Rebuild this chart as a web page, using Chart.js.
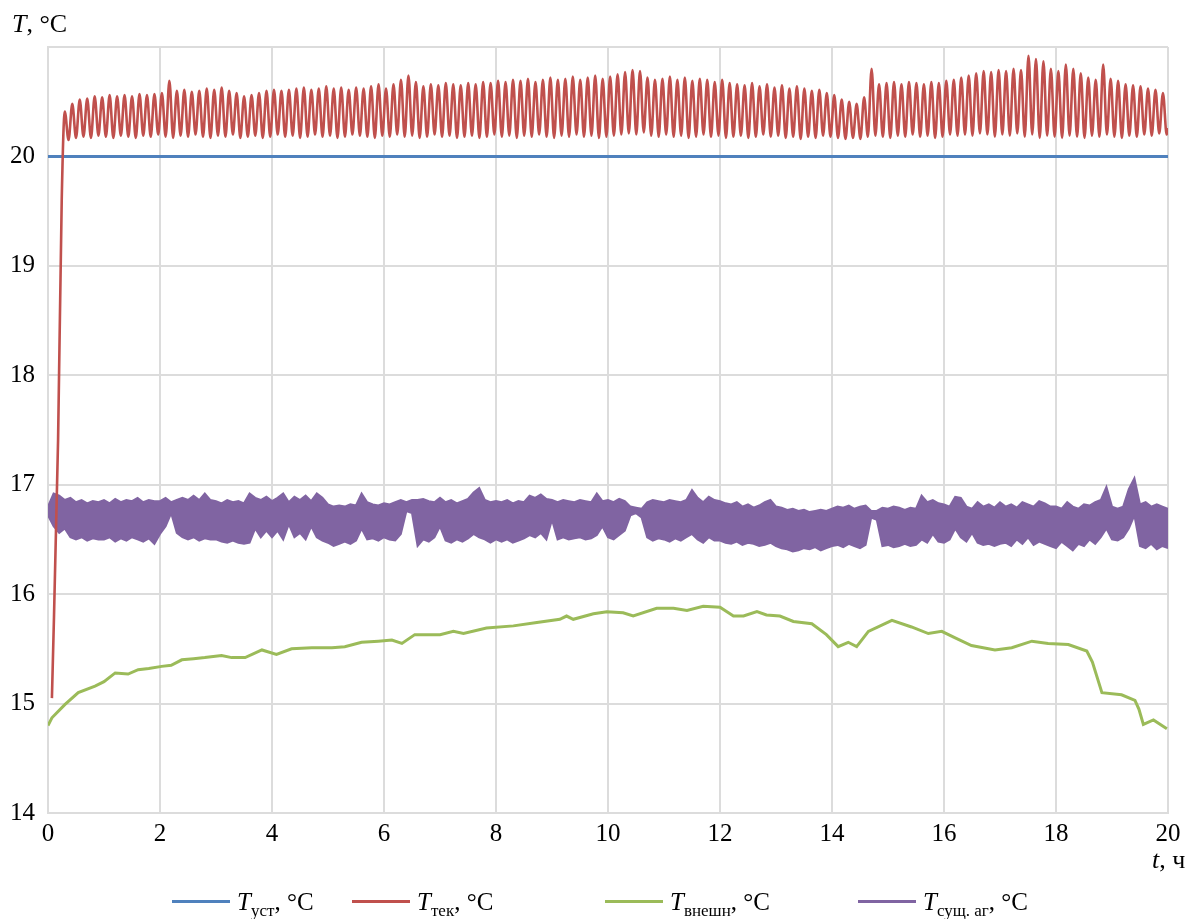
<!DOCTYPE html>
<html>
<head>
<meta charset="utf-8">
<script src="https://cdn.jsdelivr.net/npm/chart.js@4.4.1/dist/chart.umd.min.js"></script>
<style>
  body { margin: 0; background: #fff; font-family: "Liberation Serif", "Times New Roman", serif; color: #000; }
  #wrap { position: relative; width: 1203px; height: 919px; }
  #yTitle { position: absolute; left: 12px; top: 9px; font-size: 26px; }
  #xTitle { position: absolute; left: 1152px; top: 845px; font-size: 26px; }
  .leg { position: absolute; top: 888px; font-size: 25px; white-space: nowrap; }
  .leg .sw { display: inline-block; width: 58px; height: 3px; vertical-align: middle; margin-right: 7px; position: relative; top: -3px; }
  .leg sub { font-size: 17px; }
</style>
</head>
<body>
<div id="wrap">
  <canvas id="chart" width="1203" height="919"></canvas>
  <div id="yTitle"><i>T</i>, °C</div>
  <div id="xTitle"><i>t</i>, ч</div>
  <div id="legend"></div>
</div>
<script>
// x axis: time, h ; y axis: temperature, °C
const xTicks = [0, 2, 4, 6, 8, 10, 12, 14, 16, 18, 20];
const yTicks = [14, 15, 16, 17, 18, 19, 20];
const legendSubs = ['уст', 'тек', 'внешн', 'сущ. аг'];

// T уст (setpoint)
const ustT = [0, 20];
const ustV = [20, 20];

// T тек : warm-up ramp, then peaks / troughs of the oscillation
const tekRampT = [0.07, 0.18, 0.245];
const tekRampV = [15.05, 17.41, 19.6];
const tekStart = 0.30;
const tekHalfStep = 0.0667;
const tekPeaks = [
  20.41, 20.48, 20.52, 20.53, 20.55, 20.54, 20.56, 20.55, 20.56, 20.55, 20.57, 20.56, 20.57, 20.58, 20.69,
  20.60, 20.61, 20.59, 20.60, 20.62, 20.61, 20.63, 20.60, 20.58, 20.55, 20.56, 20.58, 20.60, 20.61, 20.60,
  20.61, 20.62, 20.63, 20.61, 20.62, 20.64, 20.62, 20.63, 20.61, 20.63, 20.62, 20.64, 20.66, 20.62, 20.66,
  20.70, 20.74, 20.68, 20.64, 20.66, 20.65, 20.67, 20.66, 20.65, 20.67, 20.66, 20.68, 20.67, 20.69, 20.68,
  20.70, 20.69, 20.71, 20.68, 20.70, 20.72, 20.70, 20.71, 20.73, 20.70, 20.72, 20.74, 20.71, 20.73, 20.75,
  20.77, 20.79, 20.78, 20.72, 20.70, 20.71, 20.73, 20.70, 20.72, 20.69, 20.71, 20.70, 20.68, 20.70, 20.67,
  20.66, 20.65, 20.67, 20.64, 20.66, 20.63, 20.65, 20.62, 20.64, 20.62, 20.60, 20.61, 20.58, 20.56, 20.52,
  20.50, 20.48, 20.54, 20.80, 20.66, 20.67, 20.68, 20.66, 20.68, 20.67, 20.66, 20.68, 20.67, 20.69, 20.70,
  20.72, 20.74, 20.76, 20.78, 20.77, 20.79, 20.78, 20.80, 20.79, 20.92, 20.89, 20.87, 20.80, 20.78, 20.84,
  20.80, 20.76, 20.72, 20.70, 20.84, 20.71, 20.69, 20.66, 20.65, 20.64, 20.62, 20.61, 20.58
];
const tekTroughs = [
  20.15, 20.17, 20.18, 20.17, 20.19, 20.18, 20.17, 20.19, 20.18, 20.17, 20.19, 20.18, 20.20, 20.18, 20.17,
  20.19, 20.18, 20.20, 20.18, 20.17, 20.19, 20.18, 20.20, 20.17, 20.18, 20.19, 20.17, 20.18, 20.20, 20.18,
  20.19, 20.17, 20.18, 20.20, 20.18, 20.19, 20.17, 20.18, 20.20, 20.19, 20.18, 20.17, 20.19, 20.18, 20.20,
  20.18, 20.19, 20.17, 20.18, 20.20, 20.18, 20.19, 20.17, 20.18, 20.19, 20.17, 20.18, 20.20, 20.18, 20.19,
  20.17, 20.19, 20.18, 20.20, 20.18, 20.17, 20.19, 20.18, 20.20, 20.18, 20.19, 20.17, 20.18, 20.19, 20.20,
  20.21, 20.20, 20.22, 20.19, 20.18, 20.20, 20.18, 20.19, 20.17, 20.18, 20.20, 20.18, 20.19, 20.17, 20.18,
  20.19, 20.17, 20.18, 20.20, 20.18, 20.19, 20.17, 20.18, 20.16, 20.18, 20.17, 20.19, 20.18, 20.17, 20.16,
  20.17, 20.16, 20.18, 20.19, 20.18, 20.17, 20.19, 20.18, 20.20, 20.18, 20.19, 20.17, 20.18, 20.20, 20.19,
  20.20, 20.19, 20.21, 20.20, 20.18, 20.20, 20.19, 20.21, 20.18, 20.20, 20.17, 20.19, 20.18, 20.17, 20.19,
  20.18, 20.17, 20.19, 20.18, 20.20, 20.18, 20.17, 20.19, 20.18, 20.20, 20.19, 20.21, 20.20
];
const tekEnd = [20.0, 20.26];

// T внешн
const vnT = [
  0, 0.07, 0.3, 0.54, 0.84, 1.0, 1.2, 1.43, 1.61, 1.8,
  2.03, 2.2, 2.39, 2.6, 2.8, 3.1, 3.28, 3.52, 3.82, 4.08,
  4.35, 4.71, 5.07, 5.3, 5.6, 5.9, 6.14, 6.32, 6.55, 6.82,
  7.0, 7.24, 7.42, 7.83, 8.31, 8.73, 9.14, 9.26, 9.38, 9.74,
  9.98, 10.27, 10.45, 10.87, 11.17, 11.41, 11.7, 12.0, 12.24, 12.42,
  12.66, 12.83, 13.07, 13.31, 13.64, 13.9, 14.11, 14.29, 14.44, 14.65,
  15.07, 15.42, 15.72, 15.96, 16.2, 16.49, 16.91, 17.21, 17.57, 17.86,
  18.22, 18.55, 18.65, 18.82, 19.17, 19.41, 19.48, 19.56, 19.74, 19.98
];
const vnV = [
  14.80, 14.87, 14.99, 15.10, 15.16, 15.20, 15.28, 15.27, 15.31, 15.32,
  15.34, 15.35, 15.40, 15.41, 15.42, 15.44, 15.42, 15.42, 15.49, 15.45,
  15.50, 15.51, 15.51, 15.52, 15.56, 15.57, 15.58, 15.55, 15.63, 15.63,
  15.63, 15.66, 15.64, 15.69, 15.71, 15.74, 15.77, 15.80, 15.77, 15.82,
  15.84, 15.83, 15.80, 15.87, 15.87, 15.85, 15.89, 15.88, 15.80, 15.80,
  15.84, 15.81, 15.80, 15.75, 15.73, 15.63, 15.52, 15.56, 15.52, 15.66,
  15.76, 15.70, 15.64, 15.66, 15.60, 15.53, 15.49, 15.51, 15.57, 15.55,
  15.54, 15.48, 15.38, 15.10, 15.08, 15.03, 14.95, 14.81, 14.85, 14.77
];

// T сущ. аг : upper and lower edge of the noisy band, every 0.1 h
const sushStep = 0.1;
const sushUpper = [
  16.80, 16.92, 16.90, 16.86, 16.88, 16.84, 16.86, 16.83, 16.85, 16.84,
  16.86, 16.83, 16.87, 16.84, 16.86, 16.85, 16.88, 16.84, 16.86, 16.85,
  16.85, 16.88, 16.84, 16.86, 16.88, 16.86, 16.90, 16.86, 16.92, 16.86,
  16.85, 16.83, 16.86, 16.84, 16.85, 16.83, 16.92, 16.88, 16.86, 16.89,
  16.85, 16.88, 16.92, 16.84, 16.89, 16.86, 16.90, 16.85, 16.92, 16.88,
  16.82, 16.80, 16.81, 16.80, 16.82, 16.81, 16.92, 16.84, 16.82, 16.81,
  16.83, 16.82, 16.84, 16.86, 16.84, 16.86, 16.86, 16.87, 16.85, 16.84,
  16.88, 16.84, 16.86, 16.83, 16.85, 16.87, 16.93, 16.97, 16.86, 16.84,
  16.85, 16.84, 16.86, 16.83, 16.85, 16.84, 16.90, 16.88, 16.91, 16.87,
  16.86, 16.84, 16.86, 16.85, 16.84, 16.86, 16.85, 16.84, 16.92, 16.85,
  16.86, 16.84, 16.87, 16.85, 16.80, 16.79, 16.78, 16.84, 16.86, 16.85,
  16.84, 16.86, 16.85, 16.84, 16.86, 16.95, 16.88, 16.84, 16.89, 16.86,
  16.85, 16.83, 16.82, 16.84, 16.80, 16.82, 16.79, 16.81, 16.84, 16.86,
  16.80, 16.79, 16.77, 16.78, 16.76, 16.77, 16.75, 16.76, 16.77, 16.76,
  16.78, 16.80, 16.79, 16.81, 16.78, 16.80, 16.81, 16.76, 16.76, 16.79,
  16.78, 16.80, 16.79, 16.77, 16.79, 16.78, 16.90, 16.84, 16.86, 16.83,
  16.82, 16.80, 16.89, 16.88, 16.80, 16.78, 16.84, 16.80, 16.82, 16.79,
  16.84, 16.80, 16.82, 16.79, 16.84, 16.82, 16.80, 16.85, 16.83, 16.80,
  16.80, 16.78, 16.84, 16.80, 16.78, 16.82, 16.81, 16.84, 16.86, 16.98,
  16.80, 16.78, 16.80, 16.96, 17.06, 16.82, 16.84, 16.80, 16.82, 16.80,
  16.78
];
const sushLower = [
  16.72, 16.62, 16.56, 16.60, 16.52, 16.50, 16.52, 16.49, 16.51, 16.50,
  16.50, 16.52, 16.48, 16.51, 16.49, 16.52, 16.50, 16.48, 16.51, 16.46,
  16.55, 16.62, 16.74, 16.56, 16.52, 16.50, 16.52, 16.49, 16.51, 16.50,
  16.50, 16.48, 16.47, 16.49, 16.47, 16.46, 16.47, 16.60, 16.52, 16.58,
  16.52, 16.58, 16.50, 16.64, 16.52, 16.56, 16.50, 16.62, 16.52, 16.49,
  16.47, 16.44, 16.46, 16.48, 16.46, 16.49, 16.60, 16.50, 16.51, 16.49,
  16.52, 16.50, 16.49, 16.55, 16.76, 16.74, 16.44, 16.50, 16.48, 16.52,
  16.62, 16.49, 16.47, 16.50, 16.48, 16.51, 16.55, 16.52, 16.50, 16.47,
  16.50, 16.48, 16.50, 16.47, 16.49, 16.51, 16.54, 16.52, 16.56, 16.50,
  16.68, 16.50, 16.52, 16.50, 16.51, 16.52, 16.50, 16.51, 16.54, 16.62,
  16.52, 16.50, 16.54, 16.58, 16.72, 16.74, 16.70, 16.52, 16.49, 16.51,
  16.50, 16.48, 16.51, 16.49, 16.52, 16.55, 16.50, 16.47, 16.52, 16.49,
  16.49, 16.47, 16.46, 16.48, 16.45, 16.47, 16.46, 16.44, 16.45, 16.47,
  16.44, 16.42, 16.41, 16.39, 16.40, 16.42, 16.41, 16.43, 16.40, 16.42,
  16.44, 16.45, 16.43, 16.46, 16.44, 16.42, 16.45, 16.70, 16.68, 16.44,
  16.45, 16.43, 16.44, 16.46, 16.44, 16.45, 16.50, 16.47, 16.55, 16.48,
  16.47, 16.50, 16.60, 16.52, 16.48, 16.56, 16.47, 16.45, 16.46, 16.44,
  16.46, 16.47, 16.44, 16.50, 16.46, 16.52, 16.45, 16.48, 16.46, 16.44,
  16.42, 16.48, 16.44, 16.40, 16.46, 16.44, 16.50, 16.46, 16.52, 16.60,
  16.50, 16.49, 16.52, 16.60, 16.72, 16.44, 16.42, 16.46, 16.41, 16.44,
  16.42
];

const colors = ['#4f81bd', '#c0504d', '#9bbb59', '#8064a2'];

// build point lists
const ustData = ustT.map((t, i) => ({ x: t, y: ustV[i] }));
const tekData = tekRampT.map((t, i) => ({ x: t, y: tekRampV[i] }));
tekPeaks.forEach((p, k) => {
  tekData.push({ x: tekStart + 2 * k * tekHalfStep, y: p });
  tekData.push({ x: tekStart + (2 * k + 1) * tekHalfStep, y: tekTroughs[k] });
});
tekData.push({ x: tekEnd[0], y: tekEnd[1] });
const vnData = vnT.map((t, i) => ({ x: t, y: vnV[i] }));
const sushUpData = sushUpper.map((v, i) => ({ x: +(i * sushStep).toFixed(2), y: v }));
const sushLoData = sushLower.map((v, i) => ({ x: +(i * sushStep).toFixed(2), y: v }));

const tickFont = { family: '"Liberation Serif", "Times New Roman", serif', size: 25 };
const gridColor = '#dcdcdc';

const ctx = document.getElementById('chart').getContext('2d');
const chart = new Chart(ctx, {
  type: 'line',
  data: {
    datasets: [
      { label: legendSubs[1], data: tekData, borderColor: colors[1], borderWidth: 2.6, cubicInterpolationMode: 'monotone', fill: false },
      { label: legendSubs[0], data: ustData, borderColor: colors[0], borderWidth: 3, fill: false },
      { label: legendSubs[2], data: vnData, borderColor: colors[2], borderWidth: 3, fill: false },
      { label: legendSubs[3], data: sushUpData, borderColor: colors[3], backgroundColor: colors[3], borderWidth: 2, fill: '+1' },
      { label: '', data: sushLoData, borderColor: colors[3], borderWidth: 2, fill: false }
    ]
  },
  options: {
    responsive: false,
    animation: false,
    devicePixelRatio: 1,
    layout: { padding: { left: 0, top: 47, right: 35, bottom: 66 } },
    elements: { point: { radius: 0 }, line: { tension: 0 } },
    plugins: { legend: { display: false }, tooltip: { enabled: false } },
    scales: {
      x: {
        type: 'linear', min: xTicks[0], max: xTicks[xTicks.length - 1],
        afterBuildTicks: s => { s.ticks = xTicks.map(v => ({ value: v })); },
        ticks: { font: tickFont, color: '#000', padding: 6, maxRotation: 0, autoSkip: false },
        grid: { color: gridColor, lineWidth: 2, drawTicks: false },
        border: { color: gridColor, width: 2 },
        afterFit: s => { s.height = 40; }
      },
      y: {
        min: 14, max: 21,
        afterBuildTicks: s => { s.ticks = yTicks.concat([21]).map(v => ({ value: v })); },
        ticks: { font: tickFont, color: '#000', padding: 13, callback: v => (yTicks.includes(v) ? v : '') },
        grid: { color: gridColor, lineWidth: 2, drawTicks: false },
        border: { color: gridColor, width: 2 },
        afterFit: s => { s.width = 48; }
      }
    }
  }
});

// legend with subscripts, built from the datasets
const legendLeft = [172, 352, 605, 858];
const legendOrder = [1, 0, 2, 3];
const legendBox = document.getElementById('legend');
legendOrder.forEach((di, n) => {
  const ds = chart.data.datasets[di];
  const item = document.createElement('div');
  item.className = 'leg';
  item.style.left = legendLeft[n] + 'px';
  item.innerHTML = '<span class="sw" style="background:' + ds.borderColor + '"></span><i>T</i><sub>' + ds.label + '</sub>, °C';
  legendBox.appendChild(item);
});
</script>
</body>
</html>
